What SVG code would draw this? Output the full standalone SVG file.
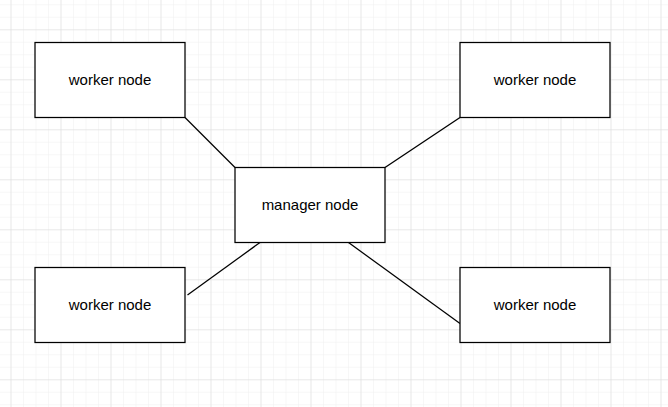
<svg xmlns="http://www.w3.org/2000/svg" width="668" height="407" viewBox="0 0 668 407">
<defs>
<pattern id="minor" x="10.5" y="4.3" width="12.5" height="12.5" patternUnits="userSpaceOnUse">
<path d="M0 0V12.5M0 0H12.5" fill="none" stroke="#f0f0f0" stroke-width="1"/>
</pattern>
<pattern id="major" x="10.5" y="29.3" width="50" height="50" patternUnits="userSpaceOnUse">
<path d="M0 0V50M0 0H50" fill="none" stroke="#dcdcdc" stroke-width="1"/>
</pattern>
<style>
.box{fill:#ffffff;stroke:#000000;stroke-width:1.25}
.lbl{font-family:"Liberation Sans",Arial,sans-serif;font-size:15px;fill:#000000;text-anchor:middle;dominant-baseline:central}
.edge{stroke:#000000;stroke-width:1.25;fill:none}
</style>
</defs>
<rect width="668" height="407" fill="#ffffff"/>
<rect width="668" height="407" fill="url(#minor)"/>
<rect width="668" height="407" fill="url(#major)"/>
<g id="connectors">
<path class="edge" d="M185 117.5L235 167.5"/>
<path class="edge" d="M460 117.5L385 167.5"/>
<path class="edge" d="M260 242.5L187.5 295"/>
<path class="edge" d="M348.5 242.5L460 323.5"/>
</g>
<g id="worker-tl"><rect class="box" x="35" y="42.5" width="150" height="75"/><text class="lbl" x="110" y="79">worker node</text></g>
<g id="worker-tr"><rect class="box" x="460" y="42.5" width="150" height="75"/><text class="lbl" x="535" y="79">worker node</text></g>
<g id="manager"><rect class="box" x="235" y="167.5" width="150" height="75"/><text class="lbl" x="310" y="204">manager node</text></g>
<g id="worker-bl"><rect class="box" x="35" y="267.5" width="150" height="75"/><text class="lbl" x="110" y="304">worker node</text></g>
<g id="worker-br"><rect class="box" x="460" y="267.5" width="150" height="75"/><text class="lbl" x="535" y="304">worker node</text></g>
</svg>
